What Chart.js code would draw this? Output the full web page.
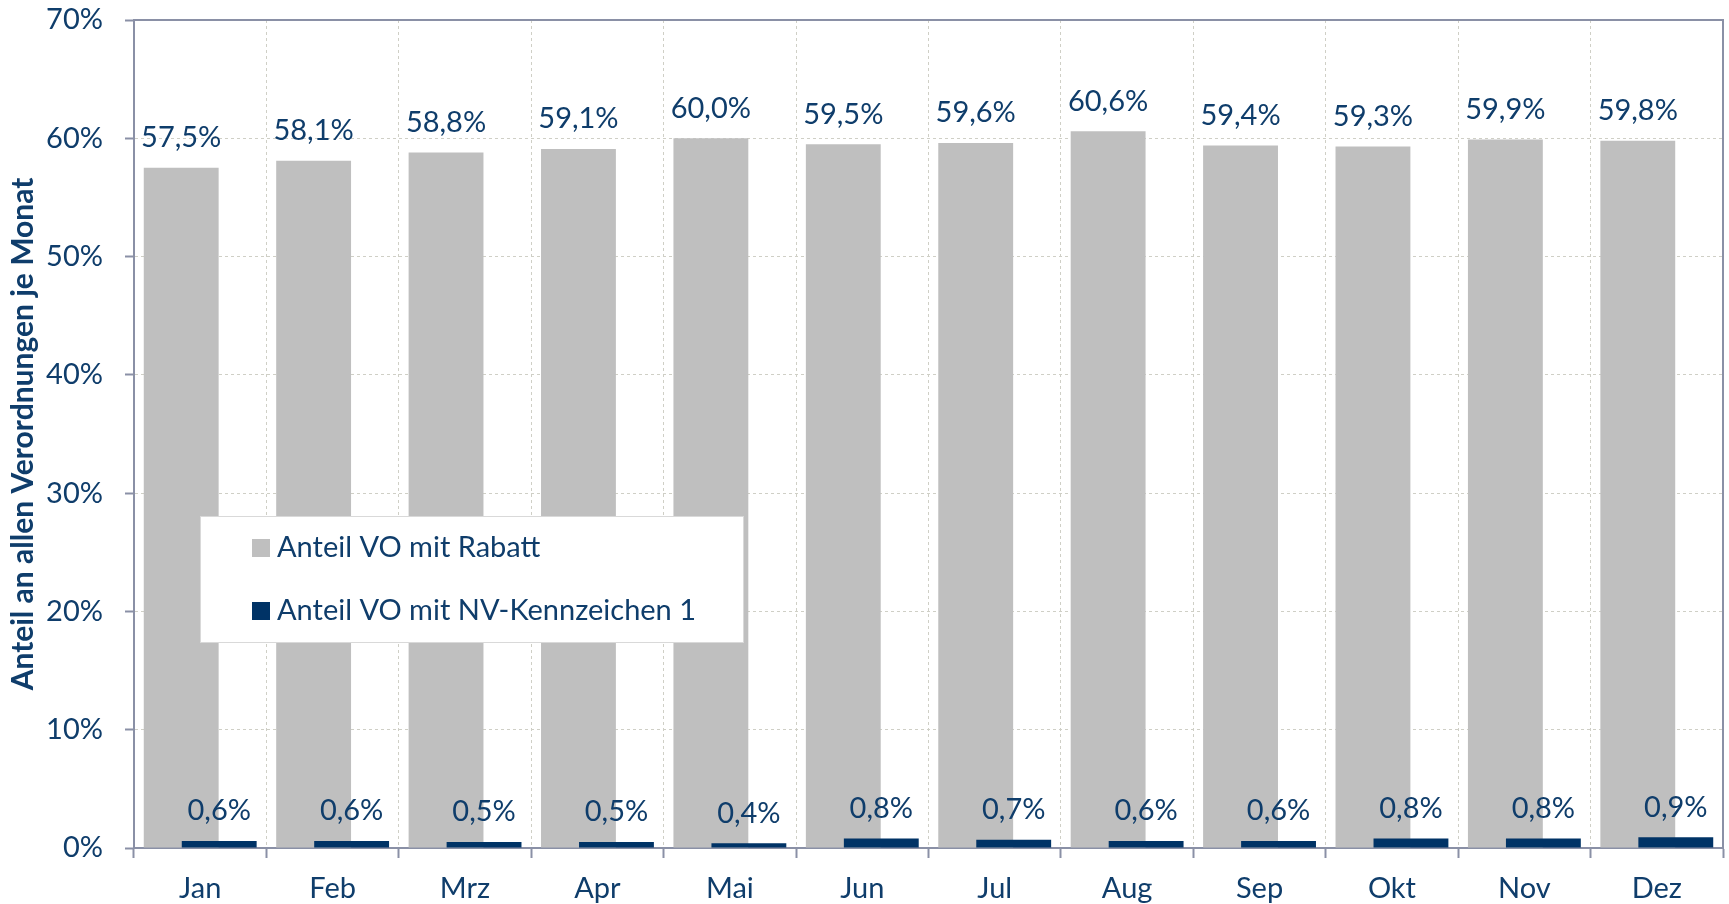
<!DOCTYPE html>
<html>
<head>
<meta charset="utf-8">
<script src="https://cdn.jsdelivr.net/npm/chart.js@4.4.1/dist/chart.umd.min.js"></script>
<style>
    html, body { margin: 0; padding: 0; background: #ffffff; }
    #wrap { width: 1729px; height: 904px; }
</style>
</head>
<body>
<div id="wrap"><canvas id="voChart" width="1729" height="904"></canvas></div>
<script>
const months = ['Jan', 'Feb', 'Mrz', 'Apr', 'Mai', 'Jun', 'Jul', 'Aug', 'Sep', 'Okt', 'Nov', 'Dez'];
const rabattShare = [57.5, 58.1, 58.8, 59.1, 60.0, 59.5, 59.6, 60.6, 59.4, 59.3, 59.9, 59.8];
const nvShare = [0.6, 0.6, 0.5, 0.5, 0.4, 0.8, 0.7, 0.6, 0.6, 0.8, 0.8, 0.9];
const seriesNames = ['Anteil VO mit Rabatt', 'Anteil VO mit NV-Kennzeichen 1'];

const TEXT_BLUE = '#0f3d6b';
const AXIS_COLOR = '#8a90a6';
const GRID_COLOR = '#cfcfc6';
const FONT = 'Lato, "Noto Sans", sans-serif';

function fmtPct(v) {
    return v.toFixed(1).replace('.', ',') + '%';
}

// gray bars sit left, but the blue ones must be painted over them
const drawOrderPlugin = {
    id: 'drawOrder',
    beforeDatasetDraw(chart, args) {
        if (args.index === 1) return false;
    },
    afterDatasetDraw(chart, args) {
        if (args.index === 0) {
            chart.getDatasetMeta(1).controller.draw();
        }
    }
};

// value labels + plot frame
const labelPlugin = {
    id: 'valueLabels',
    afterDatasetsDraw(chart) {
        const ctx = chart.ctx;
        const area = chart.chartArea;
        ctx.save();
        ctx.strokeStyle = AXIS_COLOR;
        ctx.lineWidth = 2;
        ctx.beginPath();
        ctx.moveTo(area.left, area.top);
        ctx.lineTo(area.right, area.top);
        ctx.lineTo(area.right, area.bottom);
        ctx.stroke();

        ctx.font = '29px ' + FONT;
        ctx.fillStyle = TEXT_BLUE;
        ctx.textAlign = 'center';
        ctx.textBaseline = 'middle';
        chart.data.datasets.forEach((ds, i) => {
            const meta = chart.getDatasetMeta(i);
            meta.data.forEach((bar, j) => {
                ctx.fillText(fmtPct(ds.data[j]), bar.x, bar.y - 30);
            });
        });
        ctx.restore();
    }
};

// legend box inside the plot area
const boxLegendPlugin = {
    id: 'boxLegend',
    afterDraw(chart) {
        const ctx = chart.ctx;
        const area = chart.chartArea;
        const x = area.left + 66;
        const y = area.top + 496;
        ctx.save();
        ctx.fillStyle = '#ffffff';
        ctx.fillRect(x, y, 544, 127);
        ctx.strokeStyle = '#d9d9d9';
        ctx.lineWidth = 1;
        ctx.strokeRect(x + 0.5, y + 0.5, 543, 126);

        ctx.font = '29px ' + FONT;
        ctx.textAlign = 'left';
        ctx.textBaseline = 'middle';
        chart.data.datasets.forEach((ds, i) => {
            const cy = y + 32 + i * 63;
            ctx.fillStyle = ds.backgroundColor;
            ctx.fillRect(x + 52, cy - 9, 18, 18);
            ctx.fillStyle = TEXT_BLUE;
            ctx.fillText(ds.label, x + 77, cy);
        });
        ctx.restore();
    }
};

const ctx = document.getElementById('voChart').getContext('2d');
new Chart(ctx, {
    type: 'bar',
    data: {
        labels: months,
        datasets: [{
            label: seriesNames[0],
            data: rabattShare,
            backgroundColor: '#bfbfbf',
            categoryPercentage: 0.574,
            barPercentage: 1.97
        }, {
            label: seriesNames[1],
            data: nvShare,
            backgroundColor: '#003366',
            categoryPercentage: 0.574,
            barPercentage: 1.97
        }]
    },
    options: {
        responsive: false,
        animation: false,
        layout: {
            padding: { top: 20, right: 6, bottom: 0, left: 0 }
        },
        plugins: {
            legend: { display: false },
            tooltip: { enabled: false }
        },
        scales: {
            x: {
                grid: {
                    offset: true,
                    color: GRID_COLOR,
                    lineWidth: 1,
                    tickColor: AXIS_COLOR,
                    tickWidth: 2,
                    tickLength: 10
                },
                border: {
                    color: AXIS_COLOR,
                    width: 2,
                    dash: [3, 3]
                },
                ticks: {
                    color: TEXT_BLUE,
                    padding: 13,
                    font: { family: FONT, size: 29 }
                },
                afterFit(scale) {
                    scale.height = 56;
                    scale.paddingLeft = 0;
                    scale.paddingRight = 0;
                }
            },
            y: {
                min: 0,
                max: 70,
                grid: {
                    color: GRID_COLOR,
                    lineWidth: 1,
                    tickColor: AXIS_COLOR,
                    tickWidth: 2,
                    tickLength: 9
                },
                border: {
                    color: AXIS_COLOR,
                    width: 2,
                    dash: [3, 3]
                },
                ticks: {
                    stepSize: 10,
                    color: TEXT_BLUE,
                    padding: 22,
                    font: { family: FONT, size: 29 },
                    callback: v => v + '%'
                },
                title: {
                    display: true,
                    text: 'Anteil an allen Verordnungen je Monat',
                    color: TEXT_BLUE,
                    padding: { top: 5, bottom: 0 },
                    font: { family: FONT, size: 30, weight: 'bold' }
                },
                afterFit(scale) {
                    scale.width = 134;
                    scale.paddingTop = 0;
                    scale.paddingBottom = 0;
                }
            }
        }
    },
    plugins: [drawOrderPlugin, labelPlugin, boxLegendPlugin]
});
</script>
</body>
</html>
